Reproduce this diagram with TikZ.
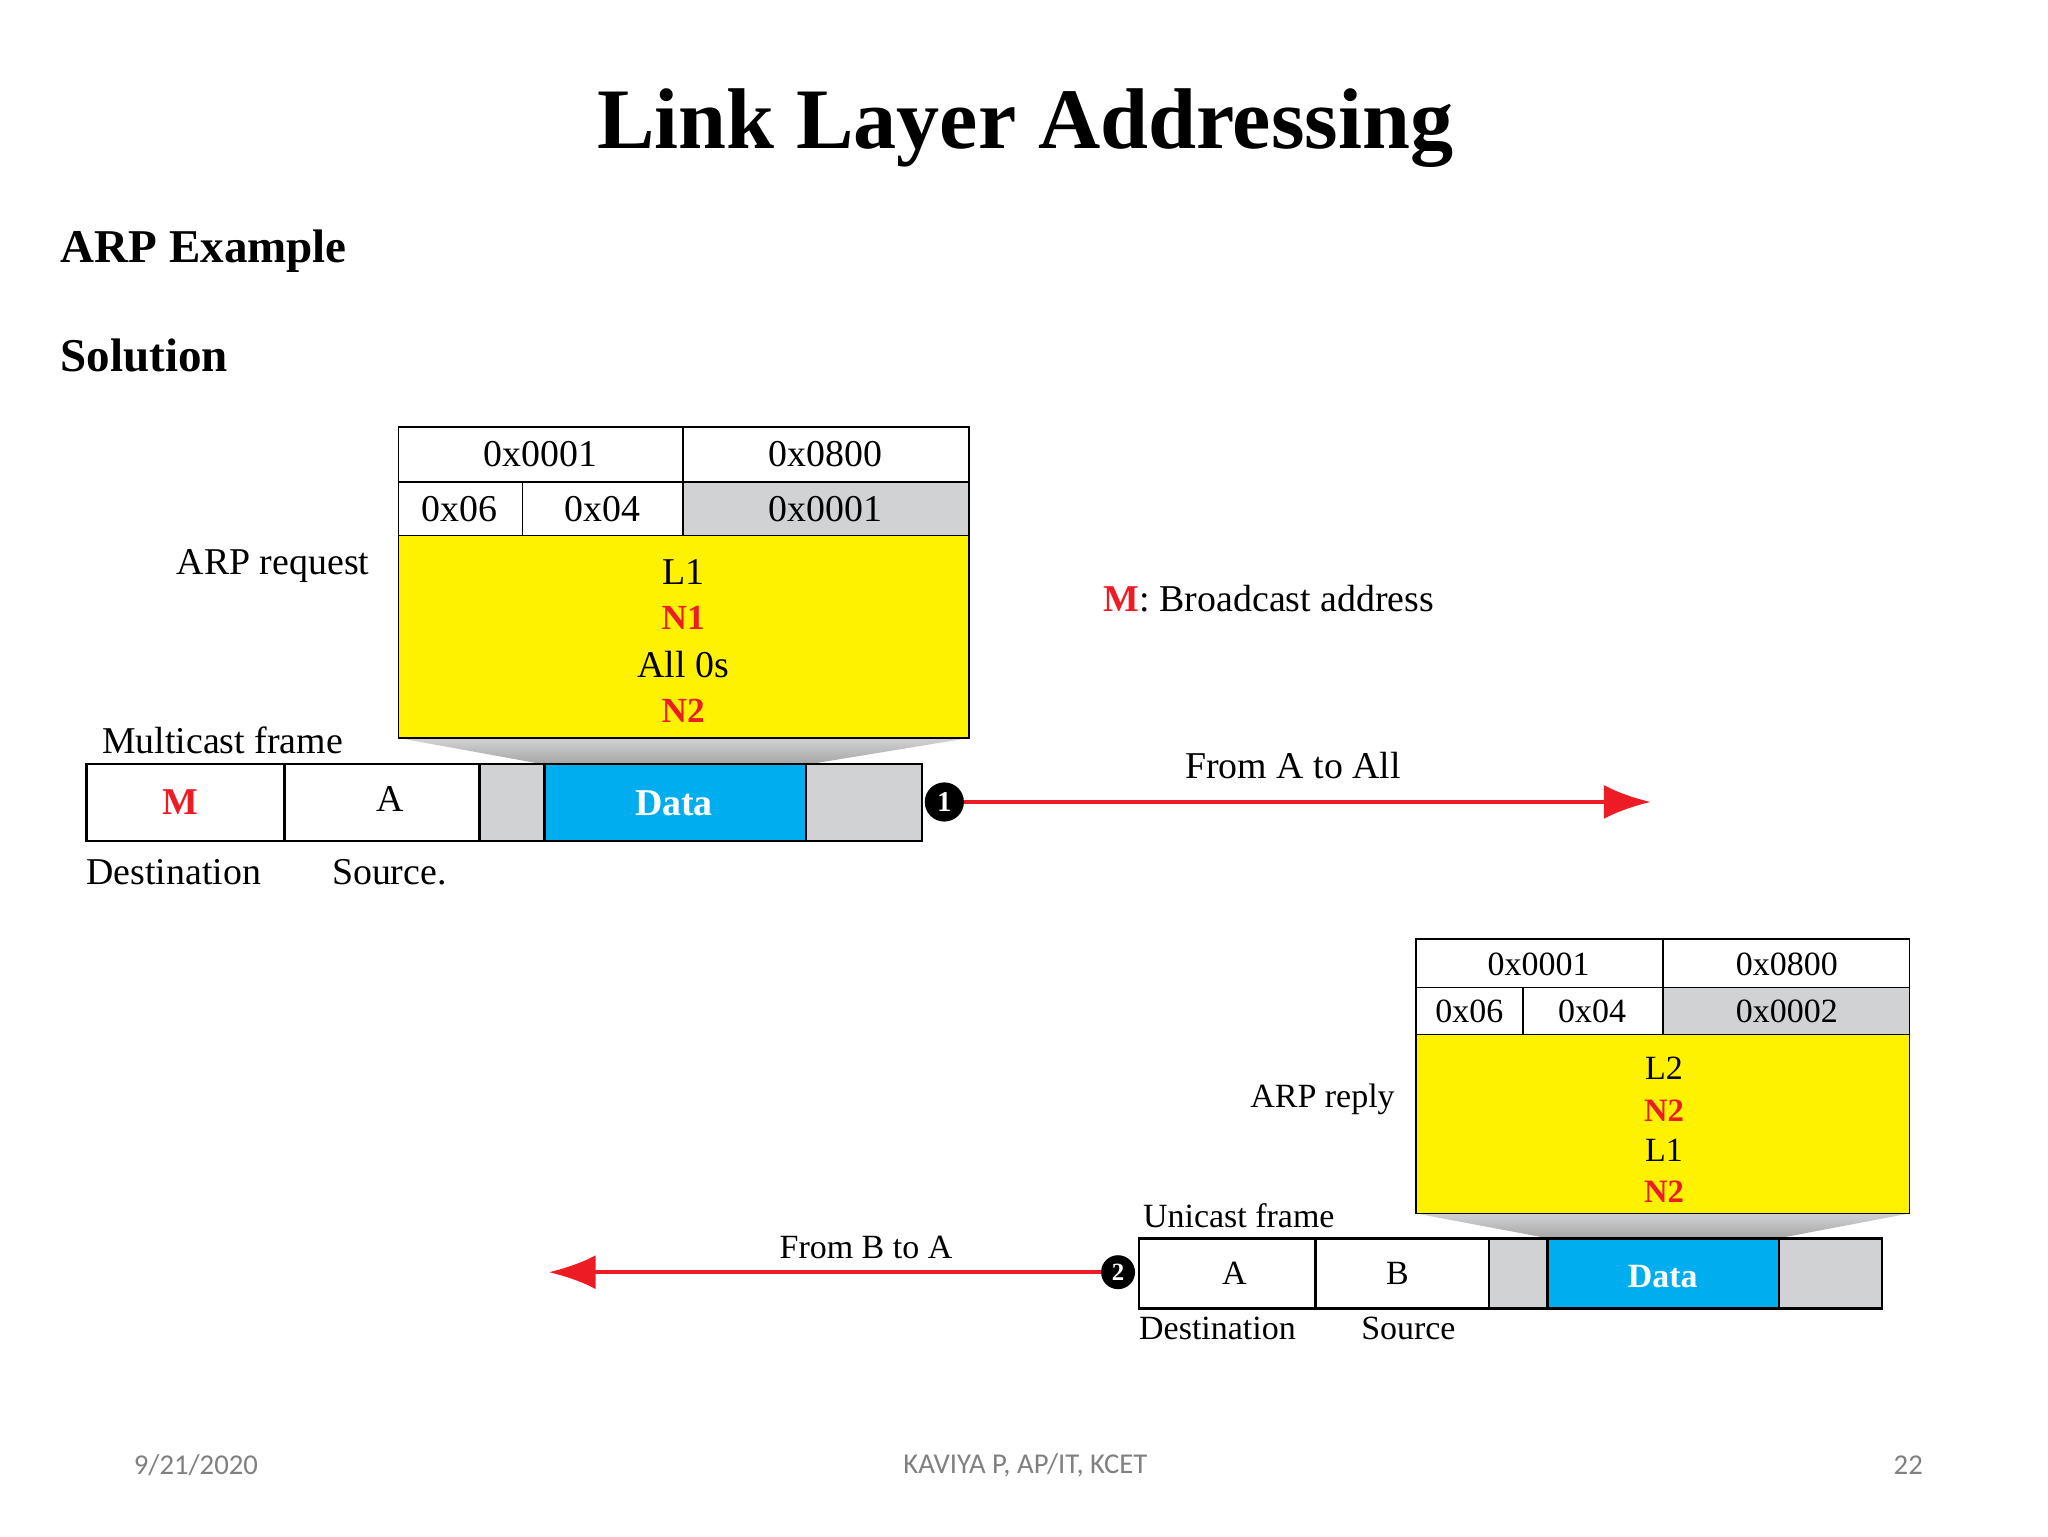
\documentclass[tikz,border=0pt]{standalone}
\usepackage{fontspec}
\setmainfont{Liberation Serif}
\newfontfamily\foot{Carlito}
\usetikzlibrary{arrows.meta}
\definecolor{ylw}{HTML}{FFF200}
\definecolor{cyn}{HTML}{00AEEF}
\definecolor{rd}{HTML}{ED1C24}
\definecolor{gr}{HTML}{D1D2D4}
\begin{document}
\begin{tikzpicture}[x=1pt,y=-1pt,
 cell/.style={draw=black,line width=1.2pt},
 fr/.style={draw=black,line width=2pt},
 t/.style={font=\fontsize{29}{29}\selectfont,inner sep=0pt},
 ts/.style={font=\fontsize{26}{26}\selectfont,inner sep=0pt},
 rb/.style={font=\fontsize{27}{27}\selectfont\bfseries,text=rd,inner sep=0pt},
 arr/.style={draw=rd,line width=3.5pt,-{Latex[length=36pt,width=26pt]}},
 num/.style={circle,fill=black,text=white,minimum size=30pt,inner sep=0pt,font=\fontsize{22}{22}\selectfont\bfseries}]
\useasboundingbox (0,0) rectangle (1568,1176);
\node[font=\fontsize{66}{66}\selectfont\bfseries] (title) at (785,98) {Link Layer Addressing};
\node[anchor=west,font=\fontsize{36}{36}\selectfont\bfseries] (ex) at (43,192) {ARP Example};
\node[anchor=west,font=\fontsize{36}{36}\selectfont\bfseries] (sol) at (43,272) {Solution};
% top table
\shade[top color=gr,bottom color=gray!70] (305,565) -- (742,565) -- (620,585) -- (415,585) -- cycle;
\fill[ylw] (305,410) rectangle (742,565);
\fill[gr] (523,369) rectangle (742,410);
\draw[cell] (305,327) rectangle (742,565);
\draw[cell] (305,369) -- (742,369) (305,410) -- (742,410) (523,327) -- (523,410) (400,369) -- (400,410);
\node[t] (a1) at (414,348) {0x0001};
\node[t] (a2) at (632,348) {0x0800};
\node[t] (a3) at (352,390) {0x06};
\node[t] (a4) at (461,390) {0x04};
\node[t] (a5) at (632,390) {0x0001};
\node[t] (l1) at (523,438) {L1};
\node[rb] (n1) at (523,473) {N1};
\node[t] (z) at (523,509) {All 0s};
\node[rb] (n2) at (523,544) {N2};
\node[t,anchor=east] (req) at (283,433) {ARP request};
\node[t,anchor=west] (mf) at (78,567) {Multicast frame};
\fill[gr] (367,585) rectangle (417,644) (617,585) rectangle (706,644);
\fill[cyn] (417,585) rectangle (617,644);
\draw[fr] (66,585) rectangle (706,644);
\draw[fr] (218,585)--(218,644) (367,585)--(367,644) (417,585)--(417,644) (617,585)--(617,644);
\node[rb,font=\fontsize{29}{29}\selectfont\bfseries] (m) at (138,614) {M};
\node[t] (sa) at (299,612) {A};
\node[t,font=\fontsize{29}{29}\selectfont\bfseries,text=white] (d1) at (516,615) {Data};
\node[t,anchor=west] (dst) at (66,668) {Destination};
\node[t,anchor=west] (src) at (254,668) {Source.};
\node[num] (c1) at (723,614) {1};
\coordinate (e1) at (1264,614);
\draw[arr] (c1.east) -- (e1);
\node[t] (fa) at (990,586) {From A to All};
\node[t,anchor=west] (bc) at (845,458) {\textcolor{rd}{\bfseries M}: Broadcast address};
% bottom table
\shade[top color=gr,bottom color=gray!70] (1084,929) -- (1462,929) -- (1362,948) -- (1185,948) -- cycle;
\fill[ylw] (1084,792) rectangle (1462,929);
\fill[gr] (1273,756) rectangle (1462,792);
\draw[cell] (1084,719) rectangle (1462,929);
\draw[cell] (1084,756) -- (1462,756) (1084,792) -- (1462,792) (1273,719) -- (1273,792) (1166,756) -- (1166,792);
\node[ts] (b1) at (1178,738) {0x0001};
\node[ts] (b2) at (1368,738) {0x0800};
\node[ts] (b3) at (1125,774) {0x06};
\node[ts] (b4) at (1219,774) {0x04};
\node[ts] (b5) at (1368,774) {0x0002};
\node[ts] (l2) at (1274,818) {L2};
\node[rb,font=\fontsize{25}{25}\selectfont\bfseries] (m2) at (1274,850) {N2};
\node[ts] (l3) at (1274,881) {L1};
\node[rb,font=\fontsize{25}{25}\selectfont\bfseries] (m3) at (1274,912) {N2};
\node[ts,anchor=east] (rep) at (1068,842) {ARP reply};
\node[ts,anchor=west] (uf) at (875,931) {Unicast frame};
\fill[gr] (1140,948) rectangle (1185,1002) (1362,948) rectangle (1441,1002);
\fill[cyn] (1185,948) rectangle (1362,1002);
\draw[fr] (872,948) rectangle (1441,1002);
\draw[fr] (1007,948)--(1007,1002) (1140,948)--(1140,1002) (1185,948)--(1185,1002) (1362,948)--(1362,1002);
\node[ts] (sa2) at (945,975) {A};
\node[ts] (sb2) at (1070,975) {B};
\node[ts,font=\fontsize{26}{26}\selectfont\bfseries,text=white] (d2) at (1273,977) {Data};
\node[ts,anchor=west] (dst2) at (872,1017) {Destination};
\node[ts,anchor=west] (src2) at (1042,1017) {Source};
\node[num,minimum size=26pt,font=\fontsize{19}{19}\selectfont\bfseries] (c2) at (856,974) {2};
\coordinate (e2) at (420,974);
\draw[arr] (c2.west) -- (e2);
\node[ts] (fb) at (663,955) {From B to A};
% footer
\node[font=\foot\fontsize{22}{22}\selectfont,text=gray] (f1) at (150,1122) {9/21/2020};
\node[font=\foot\fontsize{22}{22}\selectfont,text=gray] (f2) at (785,1122) {KAVIYA P, AP/IT, KCET};
\node[font=\foot\fontsize{22}{22}\selectfont,text=gray] (f3) at (1461,1122) {22};
\end{tikzpicture}
\end{document}
